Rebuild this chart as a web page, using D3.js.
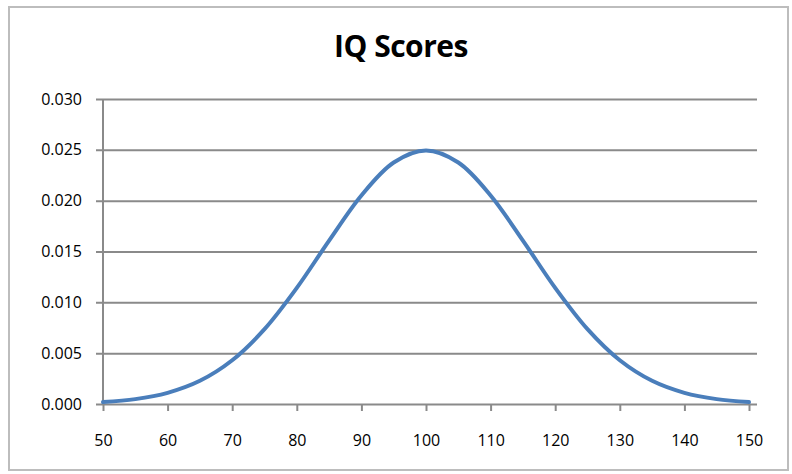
<!DOCTYPE html>
<html>
<head>
<meta charset="utf-8">
<script src="https://cdn.jsdelivr.net/npm/d3@7"></script>
<style>
  body { margin: 0; background: #fff; }
  svg { display: block; font-family: "Open Sans", sans-serif; }
</style>
</head>
<body>
<div id="chart"></div>
<script>
// IQ score values
var iq = [50, 55, 60, 65, 70, 75, 80, 85, 90, 95, 100,
          105, 110, 115, 120, 125, 130, 135, 140, 145, 150];
var density = [0.00019, 0.00048, 0.00110, 0.00228, 0.00430, 0.00736, 0.01142, 0.01607, 0.02051, 0.02375, 0.02493,
               0.02375, 0.02051, 0.01607, 0.01142, 0.00736, 0.00430, 0.00228, 0.00110, 0.00048, 0.00019];
var xTicks = [50, 60, 70, 80, 90, 100, 110, 120, 130, 140, 150];
var yTicks = [0, 0.005, 0.010, 0.015, 0.020, 0.025, 0.030];

var W = 792, H = 474;

var svg = d3.select("#chart")
            .append("svg")
            .attr("width", W)
            .attr("height", H);

// chart frame
svg.append("rect")
   .attr("x", 9)
   .attr("y", 7)
   .attr("width", 779)
   .attr("height", 463)
   .attr("fill", "#fff")
   .attr("stroke", "#bdbdbd")
   .attr("stroke-width", 2);

svg.append("text")
   .attr("x", 401)
   .attr("y", 57)
   .attr("text-anchor", "middle")
   .attr("font-size", 30)
   .attr("font-weight", "bold")
   .attr("letter-spacing", -0.5)
   .attr("fill", "#000")
   .text("IQ Scores");

var x = d3.scaleLinear().domain([50, 150]).range([103, 749]);
var y = d3.scaleLinear().domain([0, 0.030]).range([404, 99]);

// gridlines + y labels
var yAxis = d3.axisLeft(y)
              .tickValues(yTicks)
              .tickFormat(d3.format(".3f"))
              .tickSize(-(757 - 103))
              .tickPadding(21);

var gy = svg.append("g")
            .attr("transform", "translate(103,0)")
            .call(yAxis);
gy.select(".domain").remove();
gy.selectAll(".tick line")
  .attr("x1", -7)
  .attr("stroke", "#8a8a8a")
  .attr("stroke-width", 2);
gy.selectAll(".tick text")
  .attr("font-size", 16)
  .attr("fill", "#000")
  .attr("font-family", "Open Sans, sans-serif");

// vertical axis line
svg.append("line")
   .attr("x1", 103).attr("x2", 103)
   .attr("y1", y(0.030)).attr("y2", y(0) + 1)
   .attr("stroke", "#8a8a8a")
   .attr("stroke-width", 2);

// x axis
var xAxis = d3.axisBottom(x)
              .tickValues(xTicks)
              .tickSize(7)
              .tickPadding(24);

var gx = svg.append("g")
            .attr("transform", "translate(0," + y(0) + ")")
            .call(xAxis);
gx.select(".domain").remove();
gx.selectAll(".tick line")
  .attr("stroke", "#8a8a8a")
  .attr("stroke-width", 2);
gx.selectAll(".tick text")
  .attr("font-size", 16)
  .attr("fill", "#000")
  .attr("font-family", "Open Sans, sans-serif");

// the curve
var pts = iq.map(function(d, i) { return [d, density[i]]; });

var line = d3.line()
             .x(function(d) { return x(d[0]); })
             .y(function(d) { return y(d[1]); })
             .curve(d3.curveCatmullRom);

svg.append("path")
   .datum(pts)
   .attr("d", line)
   .attr("fill", "none")
   .attr("stroke", "#4a7ebb")
   .attr("stroke-width", 4)
   .attr("stroke-linecap", "round");
</script>
</body>
</html>
